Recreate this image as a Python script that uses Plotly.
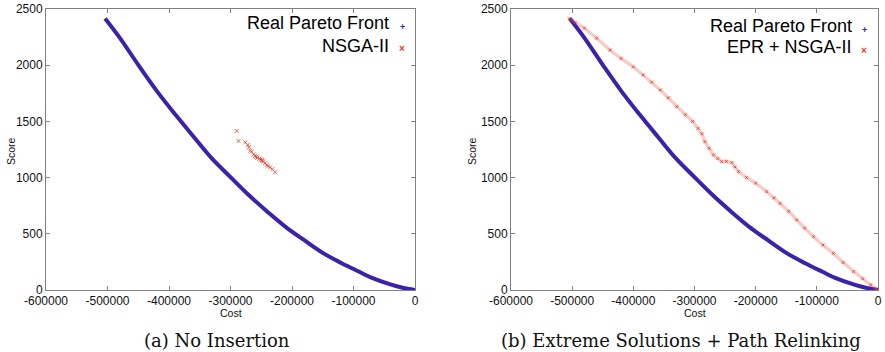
import plotly.graph_objects as go

# ---- data -------------------------------------------------------------
# Real Pareto front (cost, score)
front_cost = [-504000, -480000, -450000, -420000, -390000, -360000, -330000,
              -300000, -270000, -240000, -210000, -180000, -150000, -120000,
              -90000, -70000, -40000, -20000, 0]
front_score = [2415, 2243, 2003, 1772, 1563, 1364, 1168, 1004, 843, 697, 560,
               443, 330, 240, 160, 108, 50, 20, 0]

# NSGA-II without insertion
nsga_cost = [-290000, -287000, -276000, -272000, -270000, -268000, -265500,
             -262000, -260000, -258000, -256500, -253000, -251000, -249000,
             -248000, -246500, -244000, -241000, -239000, -235500, -232000,
             -227500]
nsga_score = [1415, 1326, 1314, 1290, 1270, 1240, 1231, 1205, 1192, 1185, 1177,
              1168, 1160, 1157, 1150, 1142, 1128, 1112, 1100, 1091, 1075, 1047]

# EPR + NSGA-II (extreme solutions + path relinking)
epr_cost = [-505000, -495000, -480000, -460000, -438000, -420000, -400000,
            -384000, -370000, -356000, -343000, -329000, -315000, -303000,
            -294000, -288000, -283000, -276000, -269000, -262000, -255500,
            -248000, -239000, -234000, -228000, -215000, -200000, -182000,
            -170000, -160000, -146000, -133000, -120000, -105500, -90000,
            -73000, -57000, -40000, -25000, -12000, -3000, 0]
epr_score = [2415, 2380, 2330, 2240, 2135, 2060, 1985, 1913, 1850, 1779, 1710,
             1631, 1560, 1500, 1438, 1390, 1320, 1260, 1201, 1170, 1142, 1145,
             1133, 1095, 1053, 1000, 950, 875, 820, 771, 700, 623, 550, 474,
             400, 326, 245, 163, 100, 45, 8, 0]

x_ticks = [-600000, -500000, -400000, -300000, -200000, -100000, 0]
x_tick_text = ["-600000", "-500000", "-400000", "-300000", "-200000", "-100000", "0"]
y_ticks = [0, 500, 1000, 1500, 2000, 2500]

captions = ["(a) No Insertion", "(b) Extreme Solutions + Path Relinking"]
legend_second = ["NSGA-II", "EPR + NSGA-II"]

# ---- styling ----------------------------------------------------------
W, H = 885, 352
BLUE = "#3b22a8"
RED = "#e8392a"
FRAME = "#808080"
SANS = "Liberation Sans, Arial, sans-serif"
SERIF = "DejaVu Serif, serif"

def px_x(p):
    return p / W

def px_y(p):
    return 1 - p / H

fig = go.Figure()

# Pareto front in both panels
for xa, ya in [("x", "y"), ("x2", "y2")]:
    fig.add_trace(go.Scatter(
        x=front_cost, y=front_score, mode="lines",
        line=dict(color=BLUE, width=4, shape="spline", smoothing=1.0),
        xaxis=xa, yaxis=ya, showlegend=False))

# NSGA-II cluster
fig.add_trace(go.Scatter(
    x=nsga_cost, y=nsga_score, mode="markers",
    marker=dict(symbol="x-thin", size=4, line=dict(color="rgba(225,50,30,0.75)", width=1)),
    xaxis="x", yaxis="y", showlegend=False))

# EPR + NSGA-II band
fig.add_trace(go.Scatter(
    x=epr_cost, y=epr_score, mode="lines+markers",
    line=dict(color="rgba(235,90,70,0.3)", width=3.5),
    marker=dict(symbol="x-thin", size=3, line=dict(color="rgba(220,40,25,0.7)", width=1)),
    xaxis="x2", yaxis="y2", showlegend=False))

axis_common = dict(
    range=[-600000, 0], tickvals=x_ticks, ticktext=x_tick_text, automargin=False,
    showline=True, linecolor=FRAME, linewidth=1, mirror="ticks",
    ticks="inside", ticklen=4, tickcolor=FRAME, showgrid=False, zeroline=False,
    tickfont=dict(family=SANS, size=12, color="#111"),
)
yaxis_common = dict(
    range=[0, 2500], tickvals=y_ticks, automargin=False,
    showline=True, linecolor=FRAME, linewidth=1, mirror="ticks",
    ticks="inside", ticklen=4, tickcolor=FRAME, showgrid=False, zeroline=False,
    tickfont=dict(family=SANS, size=12, color="#111"),
)

y_dom = [px_y(290), px_y(9)]
fig.update_layout(
    width=W, height=H, margin=dict(l=0, r=0, t=0, b=0, autoexpand=False),
    paper_bgcolor="white", plot_bgcolor="white",
    xaxis=dict(domain=[px_x(46), px_x(415)], anchor="y", **axis_common),
    yaxis=dict(domain=y_dom, anchor="x", **yaxis_common),
    xaxis2=dict(domain=[px_x(511), px_x(878)], anchor="y2", **axis_common),
    yaxis2=dict(domain=y_dom, anchor="x2", **yaxis_common),
)

ann = []
panels = [
    dict(cx=230.5, cap_x=216.5, score_x=11, legend_end=391, marker_x=402, ly1=23, ly2=46),
    dict(cx=694.5, cap_x=680.5, score_x=472, legend_end=854, marker_x=864, ly1=26, ly2=47),
]
for i, p in enumerate(panels):
    # axis titles
    ann.append(dict(x=px_x(p["cx"]), y=px_y(313), text="Cost", showarrow=False,
                    xref="paper", yref="paper", xanchor="center", yanchor="middle",
                    font=dict(family=SANS, size=10.5, color="#111")))
    ann.append(dict(x=px_x(p["score_x"]), y=px_y(151), text="Score", showarrow=False,
                    textangle=-90, xref="paper", yref="paper",
                    xanchor="center", yanchor="middle",
                    font=dict(family=SANS, size=10.5, color="#111")))
    # caption
    ann.append(dict(x=px_x(p["cap_x"]), y=px_y(340), text=captions[i],
                    showarrow=False, xref="paper", yref="paper",
                    xanchor="center", yanchor="middle",
                    font=dict(family=SERIF, size=18, color="#111")))
    # legend texts
    for txt, ly in [("Real Pareto Front", p["ly1"]), (legend_second[i], p["ly2"])]:
        ann.append(dict(x=px_x(p["legend_end"]), y=px_y(ly), text=txt, showarrow=False,
                        xref="paper", yref="paper", xanchor="right", yanchor="middle",
                        font=dict(family=SANS, size=18, color="#000")))
    # legend symbols
    ann.append(dict(x=px_x(p["marker_x"]), y=px_y(p["ly1"] + 4), text="<b>+</b>",
                    showarrow=False, xref="paper", yref="paper",
                    xanchor="center", yanchor="middle",
                    font=dict(family=SANS, size=9, color=BLUE)))
    ann.append(dict(x=px_x(p["marker_x"]), y=px_y(p["ly2"] + 3), text="<b>×</b>",
                    showarrow=False, xref="paper", yref="paper",
                    xanchor="center", yanchor="middle",
                    font=dict(family=SANS, size=10, color=RED)))

fig.update_layout(annotations=ann)

fig.write_html("out.html")
